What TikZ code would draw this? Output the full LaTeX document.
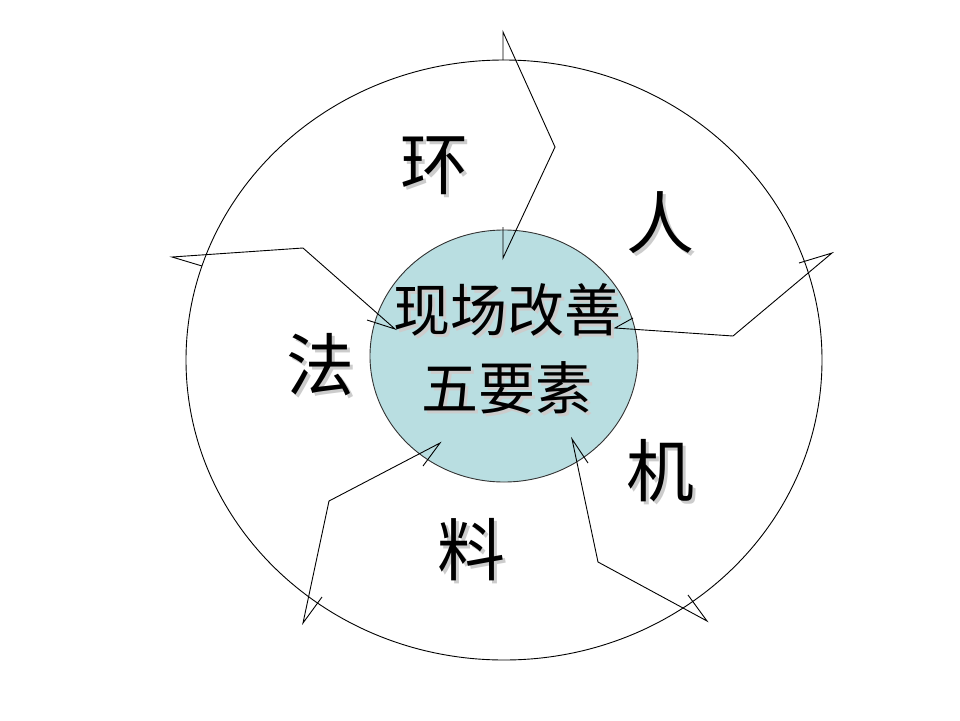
\documentclass[tikz,border=0pt]{standalone}
\usepackage{fontspec}
\setmainfont{Noto Sans CJK SC}
\definecolor{coreblue}{RGB}{185,222,225}
\newcommand{\shadowed}[1]{\makebox[0pt][l]{\kern3pt\raisebox{-3pt}{\textcolor{black!20}{#1}}}#1}
\tikzset{
  ring/.style={draw=black, line width=0.9pt},
  factor/.style={inner sep=0pt, font=\fontsize{68}{68}\selectfont},
  hubtext/.style={inner sep=0pt, align=center, font=\fontsize{57}{78}\selectfont}
}
\begin{document}
\begin{tikzpicture}[x=1pt,y=-1pt,line width=0.9pt]
\useasboundingbox (0,0) rectangle (960,720);
\fill[white] (0,0) rectangle (960,720);
\draw [ring] (504,360) ellipse [x radius=318, y radius=300];
\filldraw [ring, fill=coreblue, draw=black!80] (504,356) ellipse [x radius=134, y radius=126];
\draw [] (503,60) -- (503,32) -- (555,147) -- (503,258) -- (503,227);
\draw [] (799,263) -- (832,253) -- (733,336) -- (615,328) -- (633,318);
\draw [] (688,595) -- (707,621) -- (598,562) -- (572,439) -- (588,463);
\draw [] (322,597) -- (303,623) -- (329,501) -- (440,443) -- (423,466);
\draw [] (202,266) -- (172,257) -- (303,248) -- (395,329) -- (367,320);
\node (hub) [hubtext] at (507,350) {\shadowed{现场改善}\\\shadowed{五要素}};
\node (huan) [factor] at (434,167) {\shadowed{环}};
\node (ren) [factor] at (660,224) {\shadowed{人}};
\node (ji) [factor] at (660,472) {\shadowed{机}};
\node (liao) [factor] at (471,551) {\shadowed{料}};
\node (fa) [factor] at (320,366) {\shadowed{法}};
\end{tikzpicture}
\end{document}
